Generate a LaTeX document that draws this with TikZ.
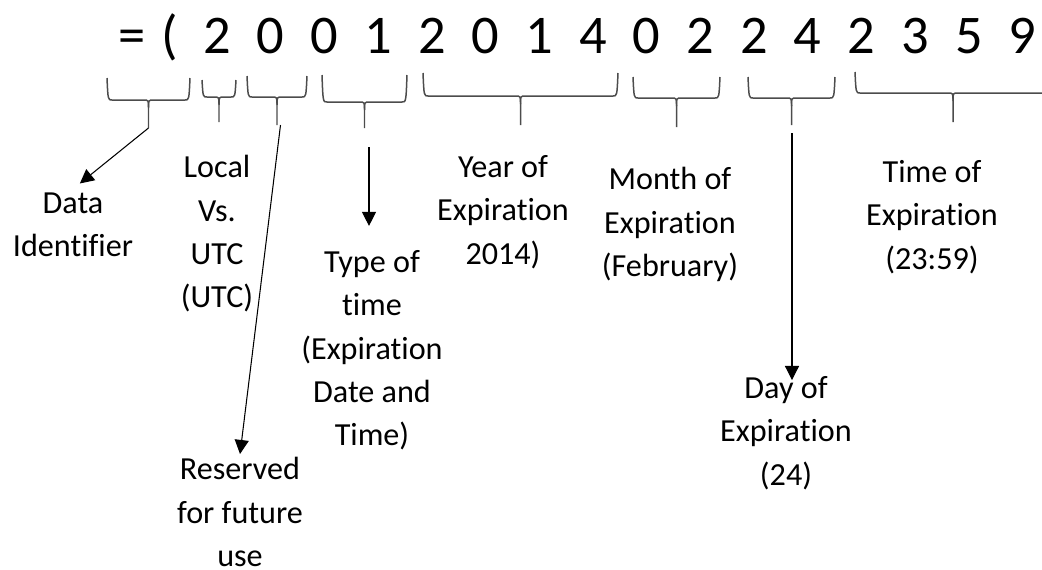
\documentclass[tikz,border=0pt]{standalone}
\usepackage{fontspec}
\setmainfont{Carlito}[Ligatures={NoCommon}]
\usetikzlibrary{arrows.meta}

\tikzset{
  digit/.style={anchor=base, inner sep=0pt, font={\fontsize{31}{37}\selectfont}},
  note/.style={anchor=north, align=center, inner sep=0pt, outer sep=2pt,
    font={\fontsize{18.3}{24.6}\selectfont}},
  bracket/.style={draw=black!70, line width=0.85pt},
  pointer/.style={draw=black, line width=0.6pt, -{Triangle[length=8pt,width=8pt]}},
}

% left, right, top, bottom, stem end, stem name
\newcommand{\wordbrace}[6]{%
  \draw[bracket] (#1,#3) .. controls (#1+1,#4) .. (#1+5,#4)
    -- ({(#1+#2)/2-5},#4) .. controls ({(#1+#2)/2},#4) .. ({(#1+#2)/2},#4+8)
    -- ({(#1+#2)/2},#5) coordinate (#6);
  \draw[bracket] (#2,#3) .. controls (#2-1,#4) .. (#2-5,#4)
    -- ({(#1+#2)/2+5},#4) .. controls ({(#1+#2)/2},#4) .. ({(#1+#2)/2},#4+8);
}

\begin{document}
\begin{tikzpicture}[x=0.02cm, y=-0.02cm]
\clip (0,0) rectangle (1042,569);

% the code
\node[digit] (eq) at (132,53) {=};
\node[digit] (paren) at (170,53) {(};
\foreach \d [count=\i] in {2,0,0,1,2,0,1,4,0,2,2,4,2,3,5,9}
  \node[digit] (d\i) at ({217+53.7*(\i-1)},53) {\d};

% braces
\wordbrace{107}{190}{78}{100}{128}{b1}
\wordbrace{202}{236}{80}{97}{122}{b2}
\wordbrace{247}{307}{76}{97}{125}{b3}
\wordbrace{322}{407}{75}{102}{128}{b4}
\wordbrace{423}{618}{73}{96}{125}{b5}
\wordbrace{633}{720}{77}{98}{127}{b6}
\wordbrace{748}{835}{77}{98}{125}{b7}
\wordbrace{855}{1051}{72}{93}{122}{b8}

% fields
\node[note] (dataid) at (73,189) {Data\\Identifier};
\node[note] (localutc) at (217,152) {Local\\Vs.\\UTC\\(UTC)};
\node[note] (reserved) at (240,454) {Reserved\\for future\\use};
\node[note] (typetime) at (372,247) {Type of\\time\\(Expiration\\Date and\\Time)};
\node[note] (yearexp) at (503,152) {Year of\\Expiration\\2014)};
\node[note] (monthexp) at (670,164) {Month of\\Expiration\\(February)};
\node[note] (dayexp) at (786,373) {Day of\\Expiration\\(24)};
\node[note] (timeexp) at (932,157) {Time of\\Expiration\\(23:59)};

\coordinate (typefrom) at (369,147);
\coordinate (dayfrom) at (792,133);

\draw[pointer, shorten >=5pt] (b1) -- (dataid.north);
\draw[pointer] ([xshift=2]b3) -- (reserved.north);
\draw[pointer, shorten >=12pt] (typefrom) -- (typefrom |- typetime.north);
\draw[pointer, shorten >=-4pt] (dayfrom) -- (dayfrom |- dayexp.north);
\end{tikzpicture}
\end{document}
